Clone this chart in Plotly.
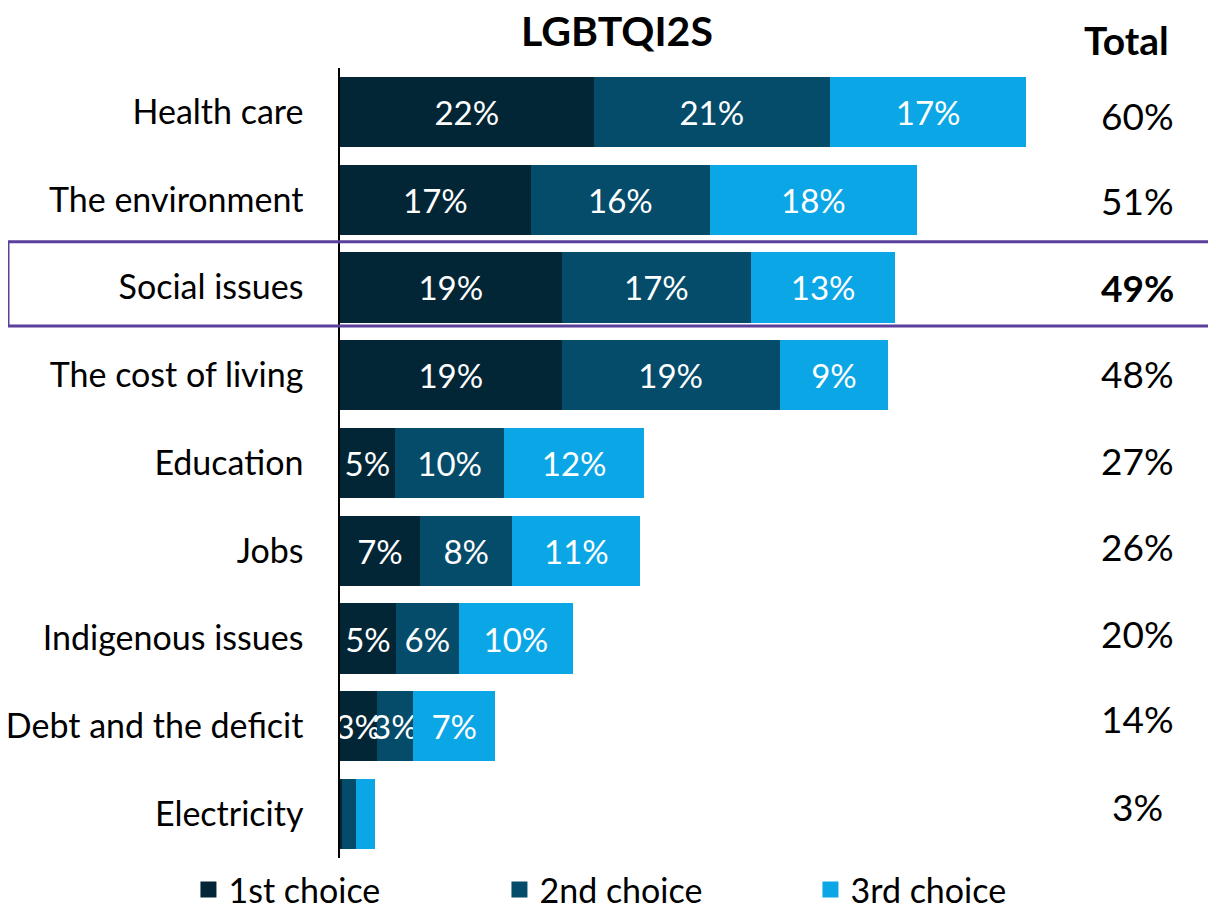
import plotly.graph_objects as go

categories = ["Health care", "The environment", "Social issues", "The cost of living",
              "Education", "Jobs", "Indigenous issues", "Debt and the deficit", "Electricity"]
first_choice = [22.2, 16.7, 19.4, 19.4, 4.8, 7.0, 4.9, 3.2, 0.2]
second_choice = [20.7, 15.7, 16.6, 19.1, 9.6, 8.1, 5.5, 3.2, 1.2]
third_choice = [17.2, 18.1, 12.6, 9.5, 12.2, 11.2, 10.0, 7.2, 1.7]
first_labels = ["22%", "17%", "19%", "19%", "5%", "7%", "5%", "3%", ""]
second_labels = ["21%", "16%", "17%", "19%", "10%", "8%", "6%", "3%", ""]
third_labels = ["17%", "18%", "13%", "9%", "12%", "11%", "10%", "7%", ""]
totals = ["60%", "51%", "49%", "48%", "27%", "26%", "20%", "14%", "3%"]
series_names = ["1st choice", "2nd choice", "3rd choice"]
colors = ["#032636", "#054B6A", "#0BA6E5"]

# small vertical nudges (pixels) for the "Total" column text, as in the original layout
total_yshift = [-4, -1, 0, 2, 3, 4, 5, 8, 8]

FONT = "Lato"

fig = go.Figure()
for name, vals, labs, col in zip(series_names,
                                 [first_choice, second_choice, third_choice],
                                 [first_labels, second_labels, third_labels], colors):
    fig.add_trace(go.Bar(
        y=categories, x=vals, name=name, orientation="h",
        marker=dict(color=col, line=dict(width=0)),
        text=labs, textposition="inside", insidetextanchor="middle",
        textangle=0, constraintext="none", cliponaxis=True,
        textfont=dict(family=FONT, size=33, color="white"),
        hoverinfo="x+y+name", showlegend=False,
    ))
    # legend entry with a larger square symbol
    fig.add_trace(go.Scatter(
        x=[None], y=[None], mode="markers", name=name,
        marker=dict(symbol="square", size=20, color=col),
        showlegend=True, hoverinfo="skip",
    ))

annotations = [
    dict(text="<b>LGBTQI2S</b>", xref="paper", yref="paper", x=0.316, y=1.048,
         xanchor="center", yanchor="middle",
         showarrow=False, font=dict(family=FONT, size=41, color="black")),
    dict(text="<b>Total</b>", xref="paper", yref="paper", x=0.898, y=1.035,
         xanchor="center", yanchor="middle",
         showarrow=False, font=dict(family=FONT, size=39, color="black")),
]
for cat, t, ys in zip(categories, totals, total_yshift):
    txt = f"<b>{t}</b>" if cat == "Social issues" else t
    annotations.append(dict(text=txt, xref="paper", yref="y", x=0.910, y=cat,
                            xanchor="center", yanchor="middle", yshift=ys,
                            showarrow=False, font=dict(family=FONT, size=37, color="black")))

fig.update_layout(
    barmode="stack",
    bargap=0.2,
    width=1208, height=900,
    margin=dict(l=332, r=0, t=60, b=50, autoexpand=False),
    plot_bgcolor="white", paper_bgcolor="white",
    font=dict(family=FONT, size=33, color="black"),
    xaxis=dict(range=[0, 76.7], visible=False, showgrid=False, zeroline=False,
               automargin=False),
    yaxis=dict(autorange="reversed", showline=True, linecolor="black", linewidth=1.5,
               ticks="", showgrid=False, ticklabelstandoff=28, automargin=False,
               tickfont=dict(family=FONT, size=34, color="black")),
    legend=dict(orientation="h", x=-0.173, xanchor="left", y=-0.0405, yanchor="middle",
                traceorder="normal",
                font=dict(family=FONT, size=34, color="black"),
                entrywidth=266, entrywidthmode="pixels", itemclick=False),
    annotations=annotations,
    shapes=[dict(type="rect", xref="paper", yref="y", x0=-0.379, x1=1.01,
                 y0=1.48, y1=2.44, line=dict(color="#5B3F9A", width=3),
                 fillcolor="rgba(0,0,0,0)", layer="above")],
    showlegend=True,
)

fig.write_html("out.html")
